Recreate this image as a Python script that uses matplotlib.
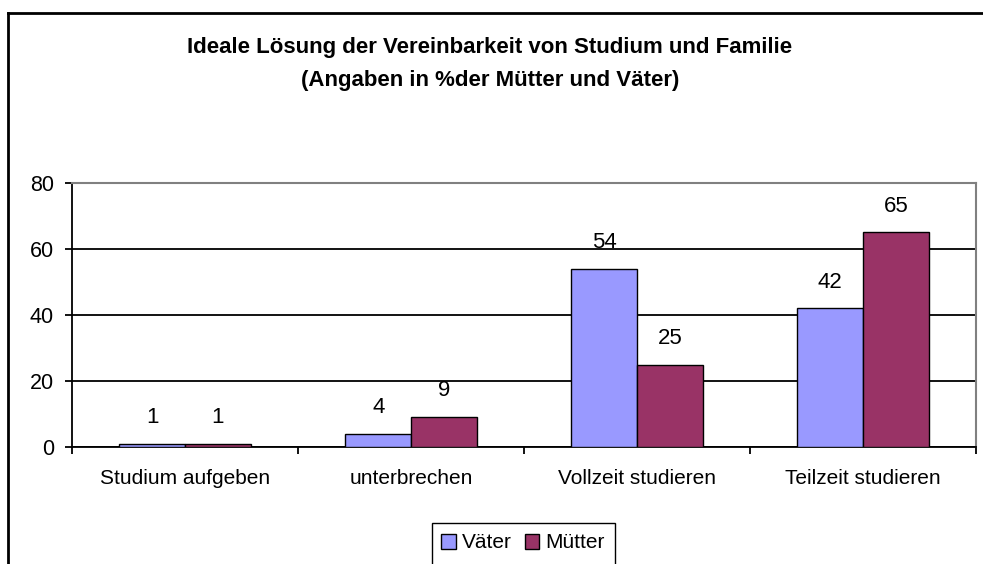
import numpy as np
import matplotlib.pyplot as plt
from matplotlib.lines import Line2D
from matplotlib.patches import Rectangle

plt.rcParams['font.family'] = ['Liberation Sans', 'DejaVu Sans']

# data
categories = ['Studium aufgeben', 'unterbrechen', 'Vollzeit studieren', 'Teilzeit studieren']
vaeter = [1, 4, 54, 42]
muetter = [1, 9, 25, 65]
series_names = ['Väter', 'Mütter']
title = 'Ideale Lösung der Vereinbarkeit von Studium und Familie\n(Angaben in %der Mütter und Väter)'

fig = plt.figure(figsize=(9.83, 5.64), dpi=100)
ax = fig.add_axes([72/983, 1-447/564, (976-72)/983, (447-183)/564])

x = np.arange(len(categories))
w = 0.29
b1 = ax.bar(x - w/2, vaeter, w, color='#9999FF', edgecolor='black', linewidth=1, label=series_names[0], zorder=3)
b2 = ax.bar(x + w/2, muetter, w, color='#993366', edgecolor='black', linewidth=1, label=series_names[1], zorder=3)
for bars in (b1, b2):
    for r in bars:
        ax.annotate(f'{r.get_height():g}', (r.get_x() + r.get_width()/2, r.get_height()),
                    xytext=(0, 19), textcoords='offset points', ha='center', va='center',
                    fontsize=16)

ax.set_xlim(-0.5, len(categories) - 0.5)
ax.set_ylim(0, 80)
ax.set_yticks([0, 20, 40, 60, 80])
ax.yaxis.grid(True, color='black', linewidth=1.3, zorder=0)
ax.set_axisbelow(True)

# category boundaries as major ticks, labels on minor ticks
ax.set_xticks(np.arange(-0.5, len(categories), 1))
ax.set_xticklabels([])
ax.set_xticks(x, minor=True)
ax.set_xticklabels(categories, minor=True)
ax.tick_params(axis='x', which='major', length=5, width=1.3, direction='out')
ax.tick_params(axis='x', which='minor', length=0, pad=16, labelsize=15)
ax.tick_params(axis='y', length=5, width=1.3, pad=8, labelsize=15.5)

ax.spines['left'].set_color('black')
ax.spines['left'].set_linewidth(1.3)
ax.spines['bottom'].set_color('black')
ax.spines['bottom'].set_linewidth(1.3)
ax.spines['top'].set_color('#808080')
ax.spines['right'].set_color('#808080')
ax.spines['top'].set_linewidth(1.5)
ax.spines['right'].set_linewidth(1.5)

fig.text(490/983, 1-64/564, title, ha='center', va='center', fontsize=16,
         fontweight='bold', linespacing=1.8)

# legend without its own frame; the frame runs off the bottom edge like the reference
leg = fig.legend(handles=[b1, b2], loc='center', bbox_to_anchor=(523/983, 1-543/564),
                 borderaxespad=0, ncol=2, fontsize=15, frameon=False,
                 handlelength=0.7, handleheight=0.7, handletextpad=0.3,
                 columnspacing=0.6, borderpad=0.2)
fig.add_artist(Rectangle((432/983, -0.05), (615-432)/983, 1-523/564+0.05,
                         transform=fig.transFigure, fill=False, edgecolor='black', linewidth=1))

# outer chart frame (cropped at right and bottom)
fig.add_artist(Line2D([8/983, 1.01], [1-13/564, 1-13/564], color='black', linewidth=2))
fig.add_artist(Line2D([8/983, 8/983], [-0.01, 1-13/564], color='black', linewidth=2))

fig.savefig('out.png', dpi=100)
